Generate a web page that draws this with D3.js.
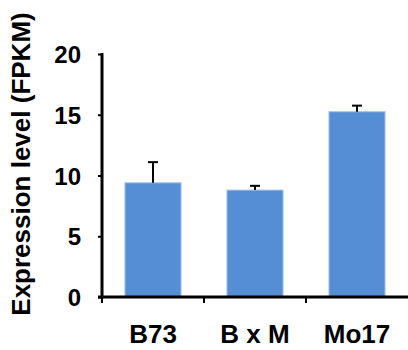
<!DOCTYPE html>
<html>
<head>
<meta charset="utf-8">
<script src="https://cdn.jsdelivr.net/npm/d3@7"></script>
<style>
  body { margin: 0; background: #fff; }
  text { font-family: "Liberation Sans", Arial, sans-serif; font-weight: bold; fill: #000; }
</style>
</head>
<body>
<div id="chart"></div>
<script>
// data
var categories = ["B73", "B x M", "Mo17"];
var means = [9.4, 8.8, 15.25];
var errors = [1.7, 0.35, 0.5];
var yTicks = [0, 5, 10, 15, 20];

var svgWidth = 408;
var svgHeight = 350;

var margin = { top: 54, right: 0, bottom: 53, left: 102 };
var width = svgWidth - margin.left - margin.right;
var height = svgHeight - margin.top - margin.bottom;

var svg = d3.select("#chart")
  .append("svg")
  .attr("width", svgWidth)
  .attr("height", svgHeight);

var chartGroup = svg.append("g")
  .attr("transform", `translate(${margin.left}, ${margin.top})`);

var xBandScale = d3.scaleBand()
  .domain(categories)
  .range([0, width])
  .paddingInner(0.45)
  .paddingOuter(0.225);

// band boundaries for the category tick marks
var xStep = xBandScale.step();

var yLinearScale = d3.scaleLinear()
  .domain([0, 20])
  .range([height, 0]);

var data = categories.map(function(c, i) {
  return { name: c, mean: means[i], err: errors[i] };
});

// bars
chartGroup.selectAll("rect.bar")
  .data(data)
  .enter()
  .append("rect")
  .attr("class", "bar")
  .attr("x", d => xBandScale(d.name))
  .attr("y", d => yLinearScale(d.mean))
  .attr("width", xBandScale.bandwidth())
  .attr("height", d => height - yLinearScale(d.mean))
  .attr("fill", "#558ed5")
  .attr("stroke", "#a8c3ea")
  .attr("stroke-width", 1);

// error bars (upper only)
var errGroup = chartGroup.selectAll("g.err")
  .data(data)
  .enter()
  .append("g")
  .attr("class", "err")
  .attr("stroke", "#000")
  .attr("stroke-width", 2);

errGroup.append("line")
  .attr("x1", d => xBandScale(d.name) + xBandScale.bandwidth() / 2)
  .attr("x2", d => xBandScale(d.name) + xBandScale.bandwidth() / 2)
  .attr("y1", d => yLinearScale(d.mean))
  .attr("y2", d => yLinearScale(d.mean + d.err));

errGroup.append("line")
  .attr("x1", d => xBandScale(d.name) + xBandScale.bandwidth() / 2 - 5)
  .attr("x2", d => xBandScale(d.name) + xBandScale.bandwidth() / 2 + 5)
  .attr("y1", d => yLinearScale(d.mean + d.err))
  .attr("y2", d => yLinearScale(d.mean + d.err));

// y axis
var leftAxis = d3.axisLeft(yLinearScale)
  .tickValues(yTicks)
  .tickSize(4)
  .tickPadding(17);

var yAxisG = chartGroup.append("g").call(leftAxis);
yAxisG.select(".domain").remove();
yAxisG.selectAll(".tick line").attr("stroke", "#000").attr("stroke-width", 2);
yAxisG.selectAll(".tick text")
  .attr("font-size", "24px")
  .attr("dy", "0.36em");

chartGroup.append("line")
  .attr("x1", 0).attr("x2", 0)
  .attr("y1", yLinearScale(20) - 1)
  .attr("y2", height + 1.5)
  .attr("stroke", "#000")
  .attr("stroke-width", 3);

// x axis
chartGroup.append("line")
  .attr("x1", -4).attr("x2", width)
  .attr("y1", height).attr("y2", height)
  .attr("stroke", "#000")
  .attr("stroke-width", 3);

chartGroup.selectAll("line.xtick")
  .data(d3.range(categories.length))
  .enter()
  .append("line")
  .attr("class", "xtick")
  .attr("x1", i => i * xStep)
  .attr("x2", i => i * xStep)
  .attr("y1", height)
  .attr("y2", height + 6)
  .attr("stroke", "#000")
  .attr("stroke-width", 2);

chartGroup.selectAll("text.xlabel")
  .data(categories)
  .enter()
  .append("text")
  .attr("class", "xlabel")
  .attr("x", d => xBandScale(d) + xBandScale.bandwidth() / 2)
  .attr("y", height + 46)
  .attr("text-anchor", "middle")
  .attr("font-size", "26px")
  .text(d => d);

// y axis title
svg.append("text")
  .attr("transform", "translate(30, 164) rotate(-90)")
  .attr("text-anchor", "middle")
  .attr("font-size", "26px")
  .text("Expression level (FPKM)");
</script>
</body>
</html>
